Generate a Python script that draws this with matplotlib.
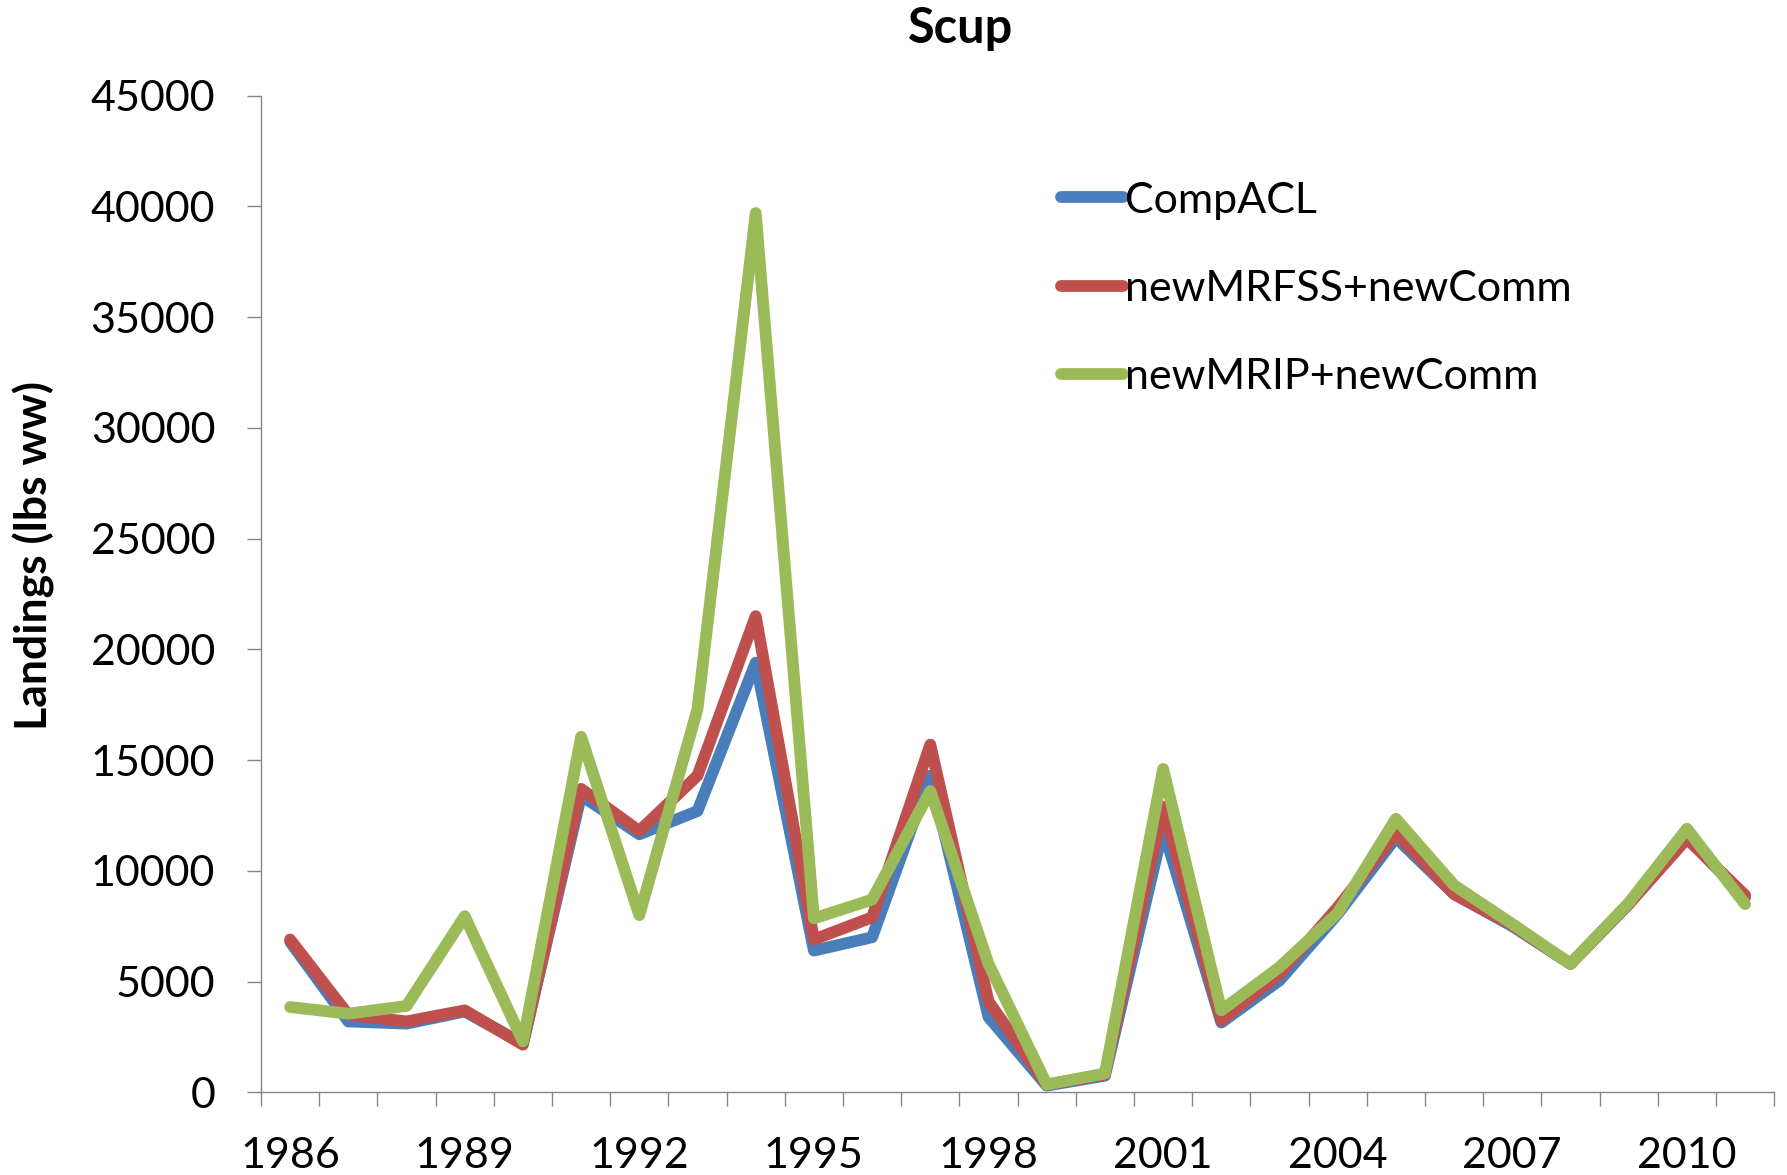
import matplotlib
matplotlib.use("Agg")
import matplotlib.pyplot as plt
import numpy as np

years = list(range(1986, 2012))
comp_acl = [6800, 3200, 3100, 3650, 2200, 13400, 11650, 12700, 19400, 6400,
            7000, 14300, 3400, 300, 750, 11900, 3150, 5050, 8050, 11500,
            8950, 7500, 5800, 8500, 11500, 8800]
new_mrfss = [6900, 3500, 3200, 3700, 2150, 13700, 11800, 14300, 21500, 6900,
             7900, 15700, 4100, 350, 800, 12900, 3250, 5350, 8350, 11700,
             8950, 7550, 5800, 8500, 11450, 8900]
new_mrip = [3850, 3550, 3900, 7950, 2300, 16050, 8000, 17300, 39700, 7850,
            8700, 13600, 5800, 350, 850, 14600, 3700, 5650, 8100, 12350,
            9350, 7600, 5800, 8550, 11900, 8500]
series_names = ["CompACL", "newMRFSS+newComm", "newMRIP+newComm"]
colors = ["#4A7EBB", "#C0504D", "#9BBB59"]
yticks = list(range(0, 45001, 5000))
xlabel_years = [1986, 1989, 1992, 1995, 1998, 2001, 2004, 2007, 2010]

plt.rcParams['font.family'] = ['Lato', 'DejaVu Sans']

W, H = 1787, 1175
fig = plt.figure(figsize=(W / 100, H / 100), dpi=100)
ax = fig.add_axes([261 / W, 1 - 1092.3 / H, 1513.2 / W, (1092.3 - 95.7) / H])

x = np.arange(len(years))
for vals, name, c in zip([comp_acl, new_mrfss, new_mrip], series_names, colors):
    ax.plot(x, vals, color=c, lw=8.5, label=name,
            solid_capstyle='round', solid_joinstyle='round')

ax.set_xlim(-0.5, len(years) - 0.5)
ax.set_ylim(0, 45000)

grey = "#868686"
for s in ['top', 'right']:
    ax.spines[s].set_visible(False)
for s in ['left', 'bottom']:
    ax.spines[s].set_color(grey)
    ax.spines[s].set_linewidth(1.0)

ax.set_yticks(yticks)
ax.set_yticklabels([str(v) for v in yticks])
ax.tick_params(axis='y', direction='out', length=10, width=1.0, color=grey,
               pad=23, labelsize=31)

ax.set_xticks(np.arange(-0.5, len(years)))
ax.set_xticklabels([])
ax.tick_params(axis='x', which='major', direction='out', length=10, width=1.0,
               color=grey)
minor_pos = [years.index(y) for y in xlabel_years]
ax.set_xticks(minor_pos, minor=True)
ax.set_xticklabels([str(y) for y in xlabel_years], minor=True)
ax.tick_params(axis='x', which='minor', length=0, pad=32, labelsize=31)

leg = ax.legend(loc='upper left', bbox_to_anchor=(1060.7 / W, 1 - 181.5 / H),
                bbox_transform=fig.transFigure, frameon=False, fontsize=31,
                handlelength=1.44, handletextpad=0.06, labelspacing=1.17,
                borderpad=0, borderaxespad=0)

fig.text(960.7 / W, 1 - 43.3 / H, "Scup", ha='center', va='baseline',
         fontsize=35, fontweight='bold')
fig.text(34 / W, 1 - 555 / H, "Landings (lbs ww)", rotation=90, ha='center',
         va='center', fontsize=32, fontweight='bold')

fig.savefig("out.png", dpi=100)
